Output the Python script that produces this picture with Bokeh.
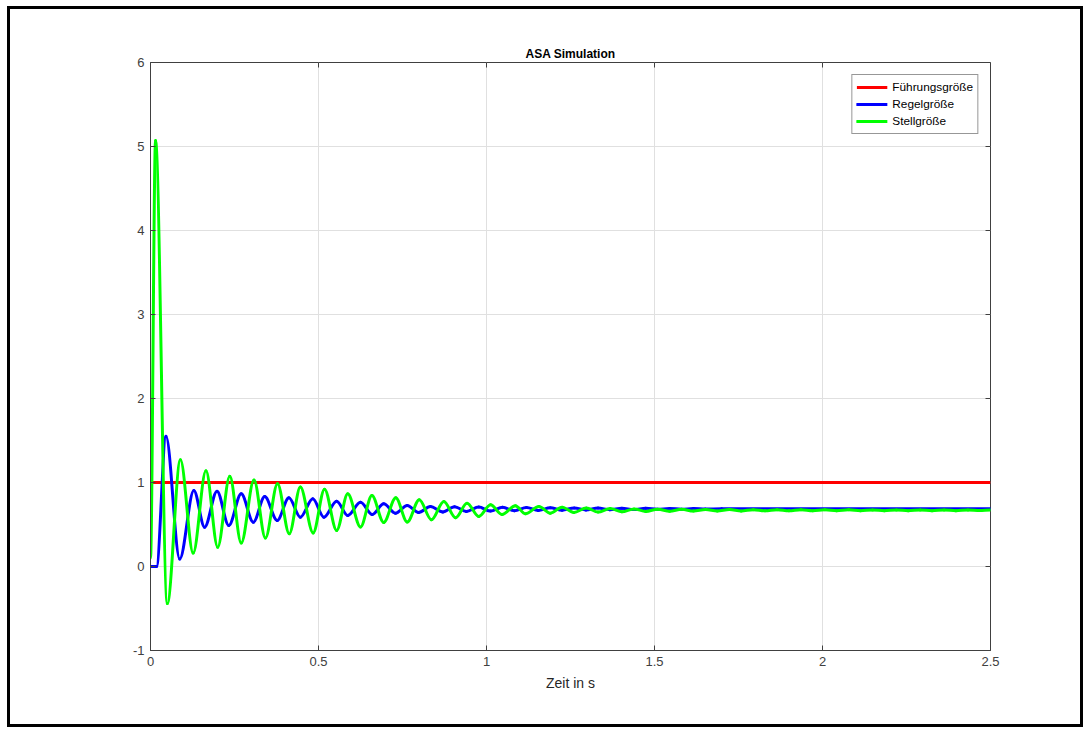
import numpy as np
from bokeh.plotting import figure
from bokeh.models import (Range1d, FixedTicker, Legend, LegendItem,
                          ColumnDataSource)
from bokeh.embed import file_html
from bokeh.resources import INLINE

# ---- axes ----
x_ticks = [0, 0.5, 1, 1.5, 2, 2.5]
x_tick_labels = ["0", "0.5", "1", "1.5", "2", "2.5"]
y_ticks = [-1, 0, 1, 2, 3, 4, 5, 6]
y_tick_labels = ["-1", "0", "1", "2", "3", "4", "5", "6"]

# ---- Führungsgröße (reference step) ----
ref_t = [0.0, 2.5]
ref_v = [1.0, 1.0]

# ---- Regelgröße (controlled variable): turning points ----
out_t = [0.000, 0.018, 0.046, 0.087, 0.129, 0.161, 0.198, 0.233, 0.270, 0.306,
         0.340, 0.377, 0.412, 0.446, 0.483, 0.516, 0.554, 0.587, 0.625, 0.660,
         0.694, 0.729, 0.764, 0.798, 0.833, 0.870, 0.905, 0.940, 0.977, 1.012,
         1.048, 1.083, 1.119, 1.154, 1.190, 1.225, 1.261, 1.296, 1.332, 1.367,
         1.403, 1.438, 1.474, 1.509, 1.545, 1.580, 1.616, 1.651, 1.700, 2.500]
out_v = [0.000, 0.000, 1.550, 0.090, 0.905, 0.468, 0.897, 0.488, 0.865, 0.527,
         0.833, 0.548, 0.818, 0.587, 0.806, 0.587, 0.777, 0.607, 0.765, 0.619,
         0.746, 0.635, 0.726, 0.643, 0.714, 0.650, 0.712, 0.655, 0.708, 0.660,
         0.705, 0.664, 0.702, 0.668, 0.699, 0.671, 0.697, 0.674, 0.695, 0.677,
         0.693, 0.679, 0.692, 0.681, 0.690, 0.683, 0.689, 0.684, 0.687, 0.687]

# ---- Stellgröße (actuating variable): turning points ----
ctl_t = [0.000, 0.015, 0.050, 0.089, 0.127, 0.165, 0.200, 0.236, 0.270, 0.308,
         0.342, 0.378, 0.413, 0.446, 0.484, 0.518, 0.554, 0.587, 0.625, 0.659,
         0.694, 0.730, 0.764, 0.800, 0.836, 0.873, 0.908, 0.942, 0.977, 1.012,
         1.046, 1.086, 1.116, 1.156, 1.190, 1.225, 1.260, 1.297, 1.332, 1.368,
         1.403, 1.439, 1.474, 1.510, 1.545, 1.581, 1.616, 1.652, 1.687, 1.723,
         1.758, 1.794, 1.829, 1.865, 1.900, 1.936, 1.971, 2.007, 2.042, 2.078,
         2.113, 2.149, 2.184, 2.220, 2.255, 2.291, 2.326, 2.362, 2.397, 2.433,
         2.468, 2.500]
ctl_v = [0.100, 5.070, -0.440, 1.270, 0.160, 1.140, 0.230, 1.075, 0.280, 1.030,
         0.340, 0.985, 0.390, 0.945, 0.400, 0.920, 0.430, 0.865, 0.470, 0.845,
         0.525, 0.818, 0.530, 0.794, 0.556, 0.774, 0.580, 0.754, 0.595, 0.734,
         0.619, 0.722, 0.627, 0.714, 0.635, 0.706, 0.643, 0.697, 0.648, 0.690,
         0.652, 0.686, 0.655, 0.683, 0.658, 0.681, 0.660, 0.679, 0.661, 0.678,
         0.662, 0.677, 0.663, 0.676, 0.663, 0.676, 0.664, 0.675, 0.664, 0.675,
         0.665, 0.674, 0.665, 0.674, 0.665, 0.674, 0.665, 0.674, 0.665, 0.673,
         0.666, 0.672]

FONT = "Liberation Sans"
AX_COLOR = "#404040"
X0, X1 = 0, 2.5
Y0, Y1 = -1, 6


def curve_source(t, v):
    """Cubic segments between successive turning points, flat tangents at each node."""
    t = np.asarray(t, dtype=float)
    v = np.asarray(v, dtype=float)
    dt = np.diff(t)
    return ColumnDataSource(dict(
        x0=t[:-1], y0=v[:-1], x1=t[1:], y1=v[1:],
        cx0=t[:-1] + dt / 3.0, cy0=v[:-1],
        cx1=t[1:] - dt / 3.0, cy1=v[1:],
    ))


p = figure(width=1076, height=721,
           x_range=Range1d(X0, X1), y_range=Range1d(Y0, Y1),
           output_backend="svg", toolbar_location=None,
           min_border_left=140, min_border_right=96,
           min_border_top=53, min_border_bottom=80,
           background_fill_color="white", border_fill_color="white")
p.margin = (6, 0, 0, 7)
p.styles = {"border": "3px solid black"}

# title
p.title.text = "ASA Simulation"
p.title.align = "center"
p.title.text_font = FONT
p.title.text_font_size = "12px"
p.title.text_font_style = "bold"
p.title.text_color = "#000000"
p.title.standoff = 4

# axes
xt = FixedTicker(ticks=x_ticks)
yt = FixedTicker(ticks=y_ticks)
p.xaxis.ticker = xt
p.yaxis.ticker = yt
p.xaxis.major_label_overrides = {k: s for k, s in zip(x_ticks, x_tick_labels)}
p.yaxis.major_label_overrides = {k: s for k, s in zip(y_ticks, y_tick_labels)}
p.xaxis.axis_label = "Zeit in s"
p.xaxis.axis_label_text_font = FONT
p.xaxis.axis_label_text_font_size = "14px"
p.xaxis.axis_label_text_font_style = "normal"
p.xaxis.axis_label_text_color = "#262626"
p.xaxis.axis_label_standoff = 6

for ax in (p.xaxis[0], p.yaxis[0]):
    ax.major_tick_in = 5
    ax.major_tick_out = 0
    ax.minor_tick_line_color = None
    ax.axis_line_color = AX_COLOR
    ax.major_tick_line_color = AX_COLOR
    ax.major_label_text_font = FONT
    ax.major_label_text_font_size = "13px"
    ax.major_label_text_color = AX_COLOR
    ax.major_label_standoff = 6

p.outline_line_color = AX_COLOR

# mirrored tick marks along the top and right edges (half clipped by the frame)
p.scatter(x=x_ticks, y=[Y1] * len(x_ticks), marker="dash", angle=np.pi / 2,
          size=10, line_color=AX_COLOR, line_width=1)
p.scatter(x=[X1] * len(y_ticks), y=y_ticks, marker="dash",
          size=10, line_color=AX_COLOR, line_width=1)

p.xgrid.ticker = xt
p.ygrid.ticker = yt
p.grid.grid_line_color = "#e0e0e0"
p.grid.grid_line_width = 1

# curves
r_ref = p.line(ref_t, ref_v, line_color="#ff0000", line_width=3)
r_out = p.bezier(x0="x0", y0="y0", x1="x1", y1="y1",
                 cx0="cx0", cy0="cy0", cx1="cx1", cy1="cy1",
                 source=curve_source(out_t, out_v),
                 line_color="#0000ff", line_width=3, line_cap="round")
r_ctl = p.bezier(x0="x0", y0="y0", x1="x1", y1="y1",
                 cx0="cx0", cy0="cy0", cx1="cx1", cy1="cy1",
                 source=curve_source(ctl_t, ctl_v),
                 line_color="#00ff00", line_width=3, line_cap="round")

legend = Legend(items=[
    LegendItem(label="Führungsgröße", renderers=[r_ref]),
    LegendItem(label="Regelgröße", renderers=[r_out]),
    LegendItem(label="Stellgröße", renderers=[r_ctl]),
], location="top_right")
legend.margin = 12
legend.padding = 4
legend.spacing = 1
legend.glyph_width = 31
legend.glyph_height = 16
legend.label_height = 16
legend.label_standoff = 5
legend.label_text_font = FONT
legend.label_text_font_size = "11.8px"
legend.label_text_color = "#000000"
legend.border_line_color = "#303030"
legend.border_line_width = 1
legend.background_fill_color = "white"
legend.background_fill_alpha = 1.0
p.add_layout(legend, "center")

open("out.html", "w").write(file_html(p, INLINE))
